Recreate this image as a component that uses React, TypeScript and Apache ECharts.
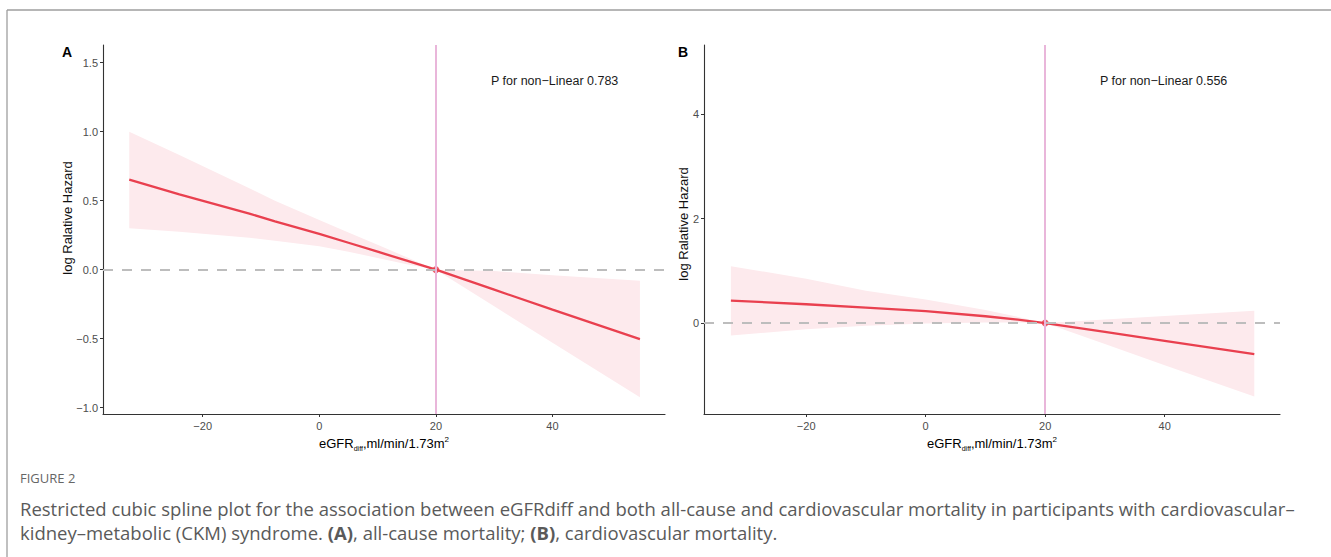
import React, { useEffect, useRef } from "react";
import * as echarts from "echarts";

// ---------- data ----------
const X_TICKS = [-20, 0, 20, 40];
const X_TICK_LABELS = ["−20", "0", "20", "40"];

const A_Y_TICKS = [-1, -0.5, 0, 0.5, 1, 1.5];
const A_Y_TICK_LABELS = ["−1.0", "−0.5", "0.0", "0.5", "1.0", "1.5"];
const B_Y_TICKS = [0, 2, 4];
const B_Y_TICK_LABELS = ["0", "2", "4"];

const A_X = [-32.6, -24, -12, -7.6, 0, 5, 10, 15, 20, 30, 40, 55];
const A_FIT = [0.652, 0.546, 0.406, 0.35, 0.26, 0.195, 0.13, 0.065, 0, -0.145, -0.29, -0.504];
const A_UPPER = [1.0, 0.83, 0.59, 0.5, 0.36, 0.27, 0.18, 0.09, 0, -0.01, -0.04, -0.08];
const A_LOWER = [0.3, 0.275, 0.232, 0.21, 0.17, 0.13, 0.085, 0.04, 0, -0.265, -0.53, -0.925];

const B_X = [-32.6, -20, -10, 0, 10, 15, 20, 30, 40, 55];
const B_FIT = [0.43, 0.36, 0.295, 0.23, 0.13, 0.07, 0, -0.17, -0.34, -0.594];
const B_UPPER = [1.09, 0.85, 0.62, 0.45, 0.25, 0.13, 0, 0.067, 0.135, 0.236];
const B_LOWER = [-0.24, -0.12, -0.05, -0.01, 0.01, 0.01, 0, -0.4, -0.81, -1.41];

const REF_POINT = [20, 0];
const P_TEXTS = ["P for non−Linear 0.783", "P for non−Linear 0.556"];
const PANEL_LABELS = ["A", "B"];
const Y_TITLE = "log Ralative Hazard";
const CAPTION_HEAD = "FIGURE 2";
const CAPTION_L1 =
  "Restricted cubic spline plot for the association between eGFRdiff and both all-cause and cardiovascular mortality in participants with cardiovascular–";
const CAPTION_L2_PARTS = [
  "kidney–metabolic (CKM) syndrome. ",
  "(A)",
  ", all-cause mortality; ",
  "(B)",
  ", cardiovascular mortality.",
];

// ---------- styles ----------
const RED = "#E9404F";
const RIBBON = "#FDEAED";
const PINK = "#E9B6DA";
const DASH = "#BDBDBD";
const AXIS = "#333333";
const TICK_TEXT = "#4D4D4D";
const FONT = "'Liberation Sans', Arial, Helvetica, sans-serif";
const CAP_FONT = "'Open Sans', sans-serif";

const pairs = (xs: number[], ys: number[]) => xs.map((x, i) => [x, ys[i]]);

function xAxisFor(gridIndex: number) {
  return {
    type: "value",
    gridIndex,
    min: -37.1,
    max: 59.3,
    splitLine: { show: false },
    axisLine: { show: true, onZero: false, lineStyle: { color: AXIS, width: 1.1 } },
    axisTick: { show: true, length: 3, customValues: X_TICKS, lineStyle: { color: AXIS, width: 1 } },
    axisLabel: {
      customValues: X_TICKS,
      formatter: (v: number) => X_TICK_LABELS[X_TICKS.indexOf(v)] ?? "",
      color: TICK_TEXT,
      fontSize: 11,
      fontFamily: FONT,
      margin: 6,
    },
    name: "{n|eGFR}{s|diff}{n|,ml/min/1.73m}{p|2}",
    nameLocation: "middle",
    nameGap: 21,
    nameTextStyle: {
      rich: {
        n: { fontSize: 13, fontFamily: FONT, color: "#000", lineHeight: 16 },
        s: { fontSize: 7, fontFamily: FONT, color: "#000", lineHeight: 8, verticalAlign: "bottom" },
        p: { fontSize: 8, fontFamily: FONT, color: "#000", lineHeight: 8, verticalAlign: "top" },
      },
    },
  };
}

function yAxisFor(gridIndex: number, min: number, max: number, ticks: number[], labels: string[]) {
  return {
    type: "value",
    gridIndex,
    min,
    max,
    splitLine: { show: false },
    axisLine: { show: true, onZero: false, lineStyle: { color: AXIS, width: 1.1 } },
    axisTick: { show: true, length: 3, customValues: ticks, lineStyle: { color: AXIS, width: 1 } },
    axisLabel: {
      customValues: ticks,
      formatter: (v: number) => labels[ticks.indexOf(v)] ?? "",
      color: TICK_TEXT,
      fontSize: 11,
      fontFamily: FONT,
      margin: 5,
    },
  };
}

function ribbonSeries(idx: number, xs: number[], up: number[], lo: number[]) {
  return {
    type: "custom",
    xAxisIndex: idx,
    yAxisIndex: idx,
    data: pairs(xs, up),
    encode: { x: 0, y: 1 },
    silent: true,
    z: 1,
    renderItem: (params: any, api: any) => {
      if (params.dataIndex !== 0) return null;
      const top = xs.map((x, i) => api.coord([x, up[i]]));
      const bottom = xs.map((x, i) => api.coord([x, lo[i]])).reverse();
      return {
        type: "polygon",
        shape: { points: top.concat(bottom) },
        style: { fill: RIBBON, stroke: "none" },
      };
    },
  };
}

function panelSeries(idx: number, xs: number[], fit: number[], up: number[], lo: number[]) {
  return [
    ribbonSeries(idx, xs, up, lo),
    {
      type: "line",
      xAxisIndex: idx,
      yAxisIndex: idx,
      data: [],
      silent: true,
      z: 2,
      markLine: {
        silent: true,
        symbol: "none",
        label: { show: false },
        data: [
          { yAxis: 0, lineStyle: { color: DASH, width: 2, type: [10, 9] } },
          { xAxis: REF_POINT[0], lineStyle: { color: PINK, width: 2, type: "solid" } },
        ],
      },
    },
    {
      type: "line",
      xAxisIndex: idx,
      yAxisIndex: idx,
      data: pairs(xs, fit),
      symbol: "none",
      lineStyle: { color: RED, width: 2.3 },
      silent: true,
      z: 3,
    },
    {
      type: "scatter",
      xAxisIndex: idx,
      yAxisIndex: idx,
      data: [REF_POINT],
      symbolSize: 7,
      itemStyle: { color: RED },
      silent: true,
      z: 4,
    },
  ];
}

export default function App() {
  const ref = useRef<HTMLDivElement>(null);

  useEffect(() => {
    document.body.style.margin = "0";
    if (!ref.current) return;
    const chart = echarts.init(ref.current, null, { renderer: "svg" });

    const capStyle = { fontSize: 18.5, fontFamily: CAP_FONT, fill: "#5a5a5a" };

    chart.setOption({
      animation: false,
      backgroundColor: "#fff",
      grid: [
        { left: 103, top: 45, width: 562, height: 369 },
        { left: 704, top: 45, width: 576, height: 369 },
      ],
      xAxis: [xAxisFor(0), xAxisFor(1)],
      yAxis: [
        yAxisFor(0, -1.046, 1.628, A_Y_TICKS, A_Y_TICK_LABELS),
        yAxisFor(1, -1.744, 5.33, B_Y_TICKS, B_Y_TICK_LABELS),
      ],
      series: [
        ...panelSeries(0, A_X, A_FIT, A_UPPER, A_LOWER),
        ...panelSeries(1, B_X, B_FIT, B_UPPER, B_LOWER),
      ],
      graphic: [
        { type: "line", shape: { x1: 7, y1: 10, x2: 1331, y2: 10 }, style: { stroke: "#9E9E9E", lineWidth: 1.3 }, silent: true },
        { type: "line", shape: { x1: 7, y1: 10, x2: 7, y2: 557 }, style: { stroke: "#9E9E9E", lineWidth: 1.3 }, silent: true },
        { type: "text", x: 62, y: 52, style: { text: PANEL_LABELS[0], fontSize: 14, fontWeight: "bold", fontFamily: FONT, fill: "#000", verticalAlign: "middle" } },
        { type: "text", x: 678, y: 52, style: { text: PANEL_LABELS[1], fontSize: 14, fontWeight: "bold", fontFamily: FONT, fill: "#000", verticalAlign: "middle" } },
        { type: "text", x: 67, y: 218, rotation: Math.PI / 2, style: { text: Y_TITLE, fontSize: 13, fontFamily: FONT, fill: "#111", align: "center", verticalAlign: "middle" } },
        { type: "text", x: 683, y: 224, rotation: Math.PI / 2, style: { text: Y_TITLE, fontSize: 13, fontFamily: FONT, fill: "#111", align: "center", verticalAlign: "middle" } },
        { type: "text", x: 491, y: 81, style: { text: P_TEXTS[0], fontSize: 12.5, fontFamily: FONT, fill: "#1a1a1a", verticalAlign: "middle" } },
        { type: "text", x: 1100, y: 81, style: { text: P_TEXTS[1], fontSize: 12.5, fontFamily: FONT, fill: "#1a1a1a", verticalAlign: "middle" } },
        { type: "text", x: 20, y: 478, style: { text: CAPTION_HEAD, fontSize: 13, fontFamily: CAP_FONT, fill: "#666", verticalAlign: "middle" } },
        { type: "text", x: 20, y: 508, style: { text: CAPTION_L1, ...capStyle, verticalAlign: "middle" } },
        {
          type: "text",
          x: 20,
          y: 532,
          style: {
            text: `{r|${CAPTION_L2_PARTS[0]}}{b|${CAPTION_L2_PARTS[1]}}{r|${CAPTION_L2_PARTS[2]}}{b|${CAPTION_L2_PARTS[3]}}{r|${CAPTION_L2_PARTS[4]}}`,
            verticalAlign: "middle",
            rich: {
              r: { ...capStyle, color: "#5a5a5a" },
              b: { ...capStyle, color: "#5a5a5a", fontWeight: "bold" },
            },
          },
        },
      ],
    });

    return () => chart.dispose();
  }, []);

  return <div ref={ref} style={{ width: 1331, height: 557 }} />;
}
